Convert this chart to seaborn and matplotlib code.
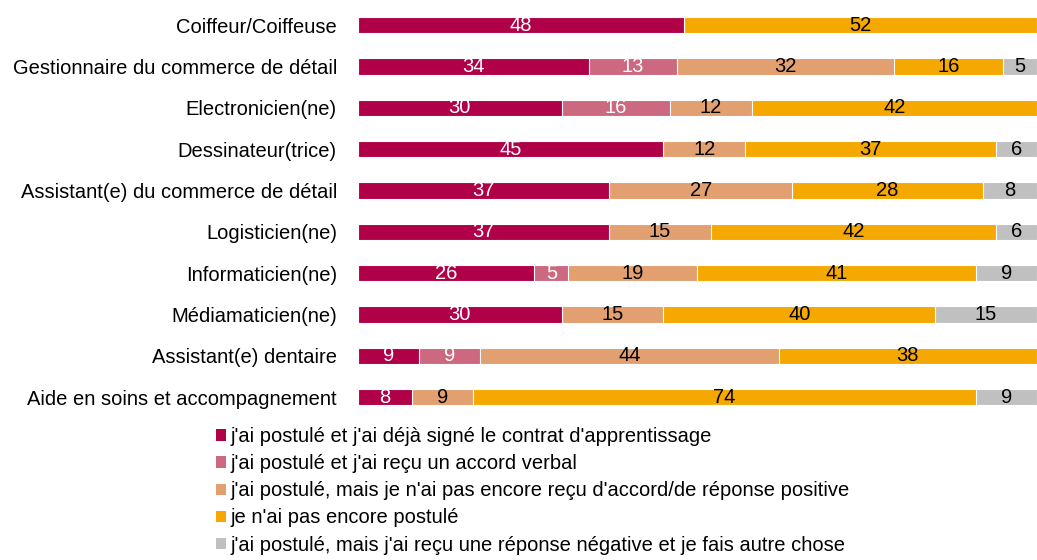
import numpy as np
import pandas as pd
import seaborn as sns
import matplotlib.pyplot as plt
from matplotlib.patches import Patch

# categories (top to bottom)
metiers = ['Coiffeur/Coiffeuse', 'Gestionnaire du commerce de détail', 'Electronicien(ne)',
           'Dessinateur(trice)', 'Assistant(e) du commerce de détail', 'Logisticien(ne)',
           'Informaticien(ne)', 'Médiamaticien(ne)', 'Assistant(e) dentaire',
           'Aide en soins et accompagnement']

series_names = ["j'ai postulé et j'ai déjà signé le contrat d'apprentissage",
                "j'ai postulé et j'ai reçu un accord verbal",
                "j'ai postulé, mais je n'ai pas encore reçu d'accord/de réponse positive",
                "je n'ai pas encore postulé",
                "j'ai postulé, mais j'ai reçu une réponse négative et je fais autre chose"]

signe = [48, 34, 30, 45, 37, 37, 26, 30, 9, 8]
accord_verbal = [0, 13, 16, 0, 0, 0, 5, 0, 9, 0]
pas_encore_reponse = [0, 32, 12, 12, 27, 15, 19, 15, 44, 9]
pas_postule = [52, 16, 42, 37, 28, 42, 41, 40, 38, 74]
refus = [0, 5, 0, 6, 8, 6, 9, 15, 0, 9]

colors = ['#B00048', '#CC6880', '#E2A070', '#F5A800', '#C0C0C0']
label_colors = ['white', 'white', 'black', 'black', 'black']

values = np.array([signe, accord_verbal, pas_encore_reponse, pas_postule, refus], dtype=float)
cums = values.cumsum(axis=0)

sns.set_theme(style='white')
plt.rcParams['font.family'] = ['Liberation Sans', 'DejaVu Sans']
plt.rcParams['text.color'] = 'black'

fig = plt.figure(figsize=(10.37, 5.6), dpi=100)
ax = fig.add_axes([0.345, 0.254, 0.655, 0.738])

# stacked bars: draw cumulative totals from the last series to the first
for i in reversed(range(len(series_names))):
    df = pd.DataFrame({'metier': metiers, 'val': cums[i]})
    sns.barplot(data=df, x='val', y='metier', orient='h', color=colors[i],
                saturation=1, width=0.4, edgecolor='white', linewidth=0.8, ax=ax)

for i in range(len(series_names)):
    for j, m in enumerate(metiers):
        v = values[i, j]
        if v > 0:
            ax.text(cums[i, j] - v / 2, j, f'{int(v)}', ha='center', va='center',
                    fontsize=14.5, color=label_colors[i])

ax.set_xlim(0, 100)
ax.set_ylim(len(metiers) - 0.5, -0.5)
ax.set_xlabel('')
ax.set_ylabel('')
ax.set_xticks([])
ax.tick_params(axis='y', length=0, pad=15, labelsize=14.5, labelcolor='black')
sns.despine(ax=ax, left=True, bottom=True)

handles = [Patch(facecolor=c, edgecolor='none') for c in colors]
leg = fig.legend(handles, series_names, loc='upper left', bbox_to_anchor=(0.208, 0.237),
                 frameon=False, fontsize=14.5, handlelength=0.5, handleheight=0.5,
                 handletextpad=0.25, labelspacing=0.4, borderaxespad=0, borderpad=0)
for t in leg.get_texts():
    t.set_color('black')

fig.savefig('out.png', dpi=100)
